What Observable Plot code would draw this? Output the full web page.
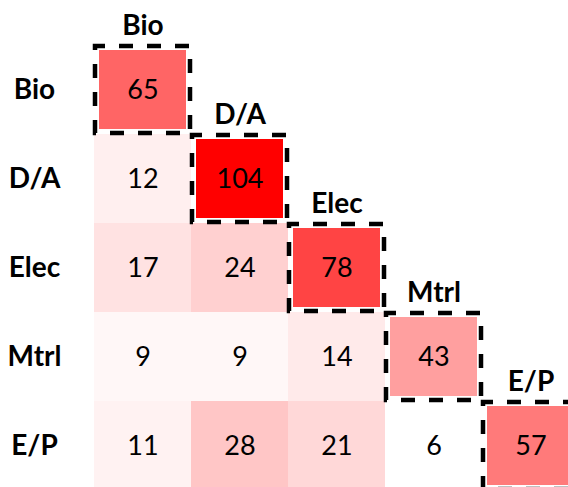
<!DOCTYPE html>
<html>
<head>
<meta charset="utf-8">
<script src="https://cdn.jsdelivr.net/npm/d3@7"></script>
<script src="https://cdn.jsdelivr.net/npm/@observablehq/plot@0.6"></script>
<style>
  html, body { margin: 0; padding: 0; background: #fff; overflow: hidden; }
  svg { display: block; }
</style>
</head>
<body>
<div id="chart"></div>
<script>
const categories = ["Bio", "D/A", "Elec", "Mtrl", "E/P"];
// lower-triangular values: row i, columns 0..i
const rowBio  = [65];
const rowDA   = [12, 104];
const rowElec = [17, 24, 78];
const rowMtrl = [9, 9, 14, 43];
const rowEP   = [11, 28, 21, 6, 57];
const rows = [rowBio, rowDA, rowElec, rowMtrl, rowEP];

const cells = [];
rows.forEach((vals, i) => vals.forEach((v, j) => cells.push({row: categories[i], col: categories[j], value: v, diag: i === j})));
const off = cells.filter(d => !d.diag);
const diag = cells.filter(d => d.diag);

const font = "Lato, 'Open Sans', sans-serif";

const chart = Plot.plot({
  width: 568,
  height: 487,
  marginLeft: 93,
  marginTop: 45,
  marginRight: 0,
  marginBottom: 0,
  style: {fontFamily: font, background: "white", overflow: "hidden"},
  x: {domain: categories, padding: 0, axis: null, range: [93, 580]},
  y: {domain: categories, padding: 0, label: null, range: [45, 490]},
  color: {type: "linear", domain: [6, 104], range: ["white", "red"], interpolate: "rgb"},
  marks: [
    Plot.cell(off, {x: "col", y: "row", fill: "value"}),
    Plot.cell(diag, {x: "col", y: "row", fill: "value", inset: 5}),
    Plot.cell(diag, {x: "col", y: "row", fill: "none", stroke: "black", strokeWidth: 4.5, strokeDasharray: "14,14", strokeDashoffset: 4, inset: 1}),
    Plot.text(cells, {x: "col", y: "row", text: "value", fontSize: 27, fill: "black"}),
    Plot.text(diag, {x: "col", y: "row", text: "col", dy: -64, fontSize: 28, fontWeight: "bold", fill: "black"}),
    Plot.axisY({tickSize: 0, textAnchor: "middle", dx: -50, fontSize: 28, fontWeight: "bold", fill: "black", label: null})
  ]
});
document.getElementById("chart").append(chart);
</script>
</body>
</html>
